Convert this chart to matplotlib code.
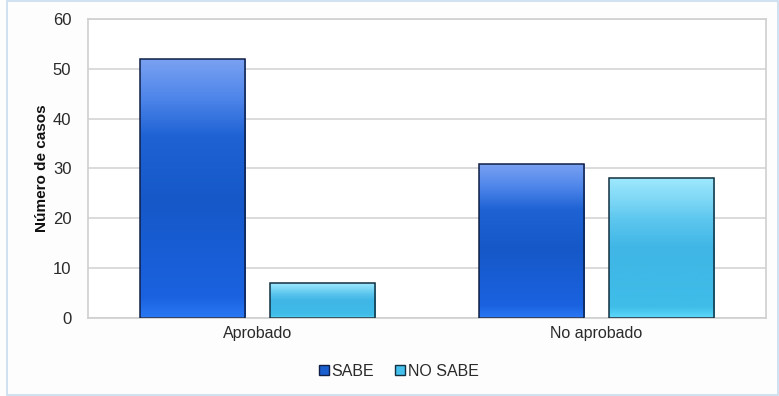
import matplotlib
matplotlib.use("Agg")
import matplotlib.pyplot as plt
import numpy as np
from matplotlib.colors import LinearSegmentedColormap
from matplotlib.patches import Rectangle, Patch

plt.rcParams["font.family"] = ["Liberation Sans", "DejaVu Sans"]

categories = ["Aprobado", "No aprobado"]
series_names = ["SABE", "NO SABE"]
sabe = [52, 31]
no_sabe = [7, 28]
yticks = [0, 10, 20, 30, 40, 50, 60]

fig = plt.figure(figsize=(7.79, 3.96), dpi=100, facecolor="#fdfdfd")
fig.patches.append(Rectangle((0.009, 0.002), 0.99, 0.996, transform=fig.transFigure,
                             fill=False, edgecolor="#c8dcef", linewidth=1.2))
ax = fig.add_axes([0.113, 0.197, 0.870, 0.755])
ax.set_facecolor("white")

x = np.arange(len(categories))
w = 0.31
off = 0.192

grads = {
    "SABE": LinearSegmentedColormap.from_list("s", [(0, "#2a78f5"), (0.08, "#1a62e0"), (0.45, "#1658c8"), (0.7, "#1e62d4"), (0.85, "#4f86ea"), (1, "#7ba2f2")]),
    "NO SABE": LinearSegmentedColormap.from_list("n", [(0, "#5cd8f8"), (0.08, "#3fbde9"), (0.5, "#3fb6e6"), (0.7, "#5cc6ee"), (0.85, "#7fd8f6"), (1, "#9ee8fd")]),
}
edge = {"SABE": "#0f1f45", "NO SABE": "#123040"}

for vals, name, sgn in [(sabe, "SABE", -1), (no_sabe, "NO SABE", 1)]:
    bars = ax.bar(x + sgn * off, vals, width=w, color="none", edgecolor=edge[name], linewidth=1.1, zorder=3)
    for b in bars:
        x0, y0 = b.get_x(), b.get_y()
        bw, bh = b.get_width(), b.get_height()
        grad = np.linspace(0, 1, 256).reshape(-1, 1)
        im = ax.imshow(grad, cmap=grads[name], origin="lower", aspect="auto",
                       extent=[x0, x0 + bw, y0, y0 + bh], zorder=2, interpolation="bilinear")
        im.set_clip_path(b)

ax.set_xlim(-0.5, 1.5)
ax.set_ylim(0, 60)
ax.set_yticks(yticks)
ax.set_xticks(x)
ax.tick_params(axis="both", length=0, colors="#2a2a2a")
ax.tick_params(axis="y", labelsize=12, pad=12)
ax.set_xticklabels(categories, fontsize=11.5, color="#2a2a2a")
ax.tick_params(axis="x", pad=6)
ax.yaxis.grid(True, color="#d4d4d4", linewidth=1.2, zorder=0)
ax.set_axisbelow(True)
for s in ax.spines.values():
    s.set_color("#cfcfcf")
    s.set_linewidth(1.2)
ax.set_ylabel("Número de casos", fontsize=11, fontweight="bold", color="#111111")
ax.yaxis.set_label_coords(-0.057, 0.5)

handles = [Patch(facecolor="#1a5fd0", edgecolor="#0f1f45", label="SABE"),
           Patch(facecolor="#45c0ec", edgecolor="#123040", label="NO SABE")]
fig.legend(handles=handles, loc="center", bbox_to_anchor=(0.512, 0.062), ncol=2, frameon=False,
           fontsize=11.5, handlelength=0.6, handleheight=0.6, handletextpad=0.2, columnspacing=1.3,
           labelcolor="#2a2a2a")

fig.savefig("out.png", dpi=100, facecolor=fig.get_facecolor())
